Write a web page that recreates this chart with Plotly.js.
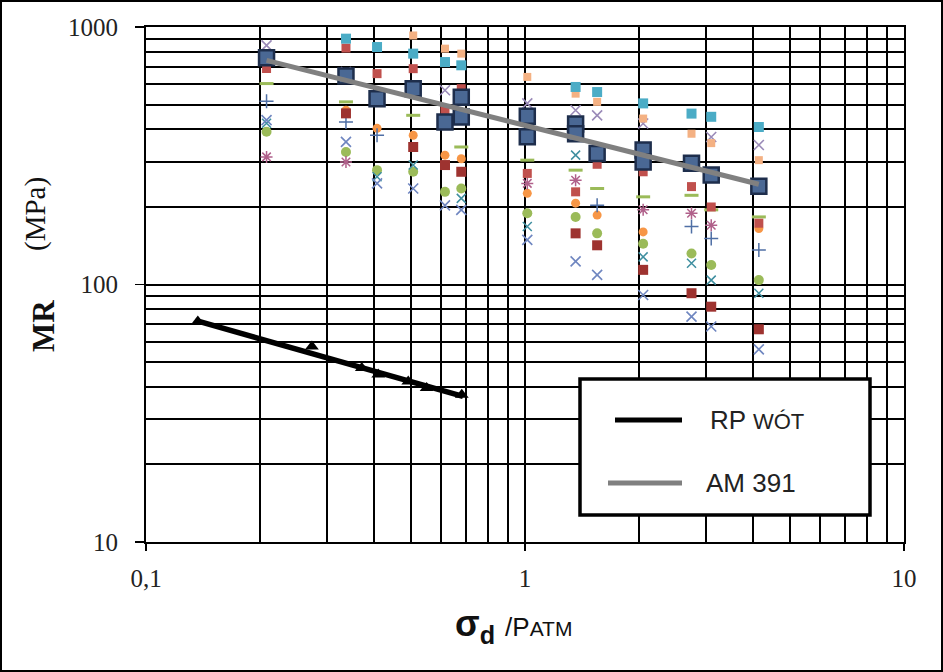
<!DOCTYPE html>
<html>
<head>
<meta charset="utf-8">
<script src="https://cdn.plot.ly/plotly-3.0.1.min.js"></script>
<style>
  html, body { margin: 0; padding: 0; background: #fff; }
  #wrap { position: relative; width: 943px; height: 672px; }
  #chart { width: 943px; height: 672px; }
  #frame { position: absolute; left: 0; top: 0; width: 943px; height: 672px;
           box-sizing: border-box; border: 2px solid #000; pointer-events: none; }
</style>
</head>
<body>
<div id="wrap">
  <div id="chart"></div>
  <div id="frame"></div>
</div>
<script>
// Deviator stress ratio levels (sigma_d / p_atm) shared by the test series
const stressRatio = [0.208, 0.337, 0.407, 0.507, 0.615, 0.679, 1.014, 1.36, 1.55, 2.05, 2.75, 3.10, 4.14];

// Resilient modulus MR (MPa) of the individual test series (null = no reading)
const seriesCyanSq     = [null, 901, 836, 788, 731, 710, null, 585, 559, 505, 461, 448, 409];
const seriesOrangeSq   = [null, null, null, 927, 824, 788, 640, 551, 512, 441, 385, 354, 304];
const seriesRedSq      = [690, 828, 659, 689, 475, 576, 270, 229, 293, 274, 240, 200, 173];
const seriesMaroonSq   = [null, 462, null, 342, 291, 274, null, 158, 142, 114, 92.5, 82, 67];
const seriesPurpleX    = [849, 668, null, null, 568, null, 505, 475, 454, 422, null, 374, 348];
const seriesBlueX      = [435, 358, 247, 236, 203, 195, 149, 123, 109, 91, 75, 68.7, 56];
const seriesGreenDot   = [392, 327, 278, 274, 229, 236, 189, 183, 158, 144, 132, 119, 104];
const seriesBluePlus   = [515, 428, 380, null, null, null, null, null, 203, null, 168, 151, 136];
const seriesPurpleStar = [313, 299, null, null, null, null, 247, 254, null, 195, 189, 170, null];
const seriesGreenDash  = [603, 512, null, 454, null, 342, 304, 278, 236, 219, 222, 195, 183];
const seriesOrangeDot  = [null, 475, 404, 380, 318, 308, 226, 207, 186, 160, null, null, 165];
const seriesTealX      = [423, null, 262, 291, null, 216, 168, 318, null, 128, 121, 104, 92.5];

// AM 391 measurements and its power-law trend line
const am391Main  = [760, 645, 527, 576, 428, 533, 450, 420, 323, 333, 296, 266, 241];
const am391Extra = [null, null, null, null, null, 447, 375, 385, null, 299, null, null, null];
const amFitX = [0.208, 4.14];
const amFitY = [742, 245];

// RP WÓT measurements and trend line
const rpX = [0.137, 0.274, 0.371, 0.410, 0.492, 0.550, 0.681];
const rpY = [71.8, 57.4, 47.4, 44.7, 42.0, 39.6, 37.3];
const rpFitX = [0.135, 0.686];
const rpFitY = [72.5, 36.8];

// Axis ticks
const xMajor = [0.1, 1, 10];
const xMajorText = ['0,1', '1', '10'];
const xMinor = [0.2, 0.3, 0.4, 0.5, 0.6, 0.7, 0.8, 0.9, 2, 3, 4, 5, 6, 7, 8, 9];
const yMajor = [10, 100, 1000];
const yMajorText = ['10', '100', '1000'];
const yMinor = [20, 30, 40, 50, 60, 70, 80, 90, 200, 300, 400, 500, 600, 700, 800, 900];

function pts(values, symbol, color, size, lineWidth) {
  const open = symbol.indexOf('open') >= 0;
  return {
    type: 'scatter', mode: 'markers', x: stressRatio, y: values, showlegend: false,
    marker: {
      symbol: symbol, size: size, color: color,
      line: { width: open ? (lineWidth || 1.5) : 0, color: color }
    },
    hoverinfo: 'x+y'
  };
}

const traces = [
  pts(seriesGreenDash,  'line-ew-open',     '#9BBB59', 10, 3),
  pts(seriesOrangeDot,  'circle',           '#F79646', 9),
  pts(seriesGreenDot,   'circle',           '#9BBB59', 10),
  pts(seriesBluePlus,   'cross-thin-open',  '#4F6FA5', 10, 1.5),
  pts(seriesPurpleStar, 'asterisk-open',    '#B0608A', 10, 1.5),
  pts(seriesTealX,      'x-thin-open',      '#3F8FA0', 9, 1.5),
  pts(seriesBlueX,      'x-thin-open',      '#6F86C0', 10, 1.6),
  pts(seriesPurpleX,    'x-thin-open',      '#9A8AB8', 10, 1.6),
  pts(seriesOrangeSq,   'square',           '#F4B183', 8),
  pts(seriesRedSq,      'square',           '#C0504D', 9),
  pts(seriesMaroonSq,   'square',           '#9E3330', 10),
  pts(seriesCyanSq,     'square',           '#4BACC6', 10),
  {
    type: 'scatter', mode: 'markers', x: stressRatio, y: am391Main, showlegend: false,
    marker: { symbol: 'square', size: 15, color: '#4A6894', line: { width: 2.5, color: '#1E2E4C' } }
  },
  {
    type: 'scatter', mode: 'markers', x: stressRatio, y: am391Extra, showlegend: false,
    marker: { symbol: 'square', size: 15, color: '#4A6894', line: { width: 2.5, color: '#1E2E4C' } }
  },
  {
    type: 'scatter', mode: 'lines', name: 'AM 391', x: amFitX, y: amFitY, showlegend: false,
    line: { color: '#808080', width: 5 }
  },
  {
    type: 'scatter', mode: 'markers', x: rpX, y: rpY, showlegend: false,
    marker: { symbol: 'triangle-up', size: 12, color: '#000' }
  },
  {
    type: 'scatter', mode: 'lines', name: 'RP WÓT', x: rpFitX, y: rpFitY, showlegend: false,
    line: { color: '#000', width: 5.5 }
  }
];

// plot area in pixels: x 146..904, y 27..542
const L = 146, R = 904, T = 27, B = 542;
const px = v => (v - L) / (R - L);
const py = v => (B - v) / (B - T);

const layout = {
  width: 943, height: 672,
  margin: { l: L, r: 943 - R, t: T, b: 672 - B },
  paper_bgcolor: '#fff', plot_bgcolor: '#fff',
  showlegend: false,
  xaxis: {
    type: 'log', range: [-1, 1],
    tickmode: 'array', tickvals: xMajor, ticktext: xMajorText,
    ticks: 'outside', ticklen: 7, tickwidth: 1.5, tickcolor: '#000',
    ticklabelstandoff: 6,
    tickfont: { family: 'Liberation Serif, serif', size: 25, color: '#222' },
    showgrid: true, gridcolor: '#000', gridwidth: 2,
    showline: true, linecolor: '#000', linewidth: 2, mirror: true,
    zeroline: false,
    minor: { tickmode: 'array', tickvals: xMinor, showgrid: true, gridcolor: '#000', gridwidth: 2, ticks: '' }
  },
  yaxis: {
    type: 'log', range: [1, 3],
    tickmode: 'array', tickvals: yMajor, ticktext: yMajorText,
    ticks: 'outside', ticklen: 9, tickwidth: 1.5, tickcolor: '#000',
    ticklabelstandoff: 12,
    tickfont: { family: 'Liberation Serif, serif', size: 25, color: '#222' },
    showgrid: true, gridcolor: '#000', gridwidth: 2,
    showline: true, linecolor: '#000', linewidth: 2, mirror: true,
    zeroline: false,
    minor: { tickmode: 'array', tickvals: yMinor, showgrid: true, gridcolor: '#000', gridwidth: 2, ticks: '' }
  },
  shapes: [
    { type: 'rect', xref: 'paper', yref: 'paper', layer: 'above',
      x0: px(580), x1: px(870), y0: py(515), y1: py(379),
      fillcolor: '#fff', line: { color: '#000', width: 3.5 } },
    { type: 'line', xref: 'paper', yref: 'paper', layer: 'above',
      x0: px(615), x1: px(682), y0: py(420), y1: py(420),
      line: { color: '#000', width: 5 } },
    { type: 'line', xref: 'paper', yref: 'paper', layer: 'above',
      x0: px(608), x1: px(682), y0: py(483), y1: py(483),
      line: { color: '#808080', width: 5 } }
  ],
  annotations: [
    { xref: 'paper', yref: 'paper', x: px(708), y: py(420), xanchor: 'left', yanchor: 'middle',
      showarrow: false, text: "RP <span style='font-size:22px'>WÓT</span>",
      font: { family: 'Liberation Sans, Arial, sans-serif', size: 26, color: '#222' } },
    { xref: 'paper', yref: 'paper', x: px(704), y: py(483), xanchor: 'left', yanchor: 'middle',
      showarrow: false, text: 'AM 391',
      font: { family: 'Liberation Sans, Arial, sans-serif', size: 26, color: '#222' } },
    { xref: 'paper', yref: 'paper', x: px(43), y: py(326), xanchor: 'center', yanchor: 'middle',
      showarrow: false, textangle: -90, text: '<b>MR</b>',
      font: { family: 'Liberation Serif, serif', size: 31, color: '#111' } },
    { xref: 'paper', yref: 'paper', x: px(35), y: py(214), xanchor: 'center', yanchor: 'middle',
      showarrow: false, textangle: -90, text: '(MPa)',
      font: { family: 'Liberation Serif, serif', size: 29, color: '#111' } },
    { xref: 'paper', yref: 'paper', x: px(513), y: py(626), xanchor: 'center', yanchor: 'middle',
      showarrow: false,
      text: "<b>σ</b><sub><b>d</b></sub> <span style='font-size:26px'>/P</span><span style='font-size:21px'>ATM</span>",
      font: { family: 'Liberation Sans, Arial, sans-serif', size: 36, color: '#111' } }
  ]
};

Plotly.newPlot('chart', traces, layout, { displayModeBar: false, staticPlot: true });
</script>
</body>
</html>
